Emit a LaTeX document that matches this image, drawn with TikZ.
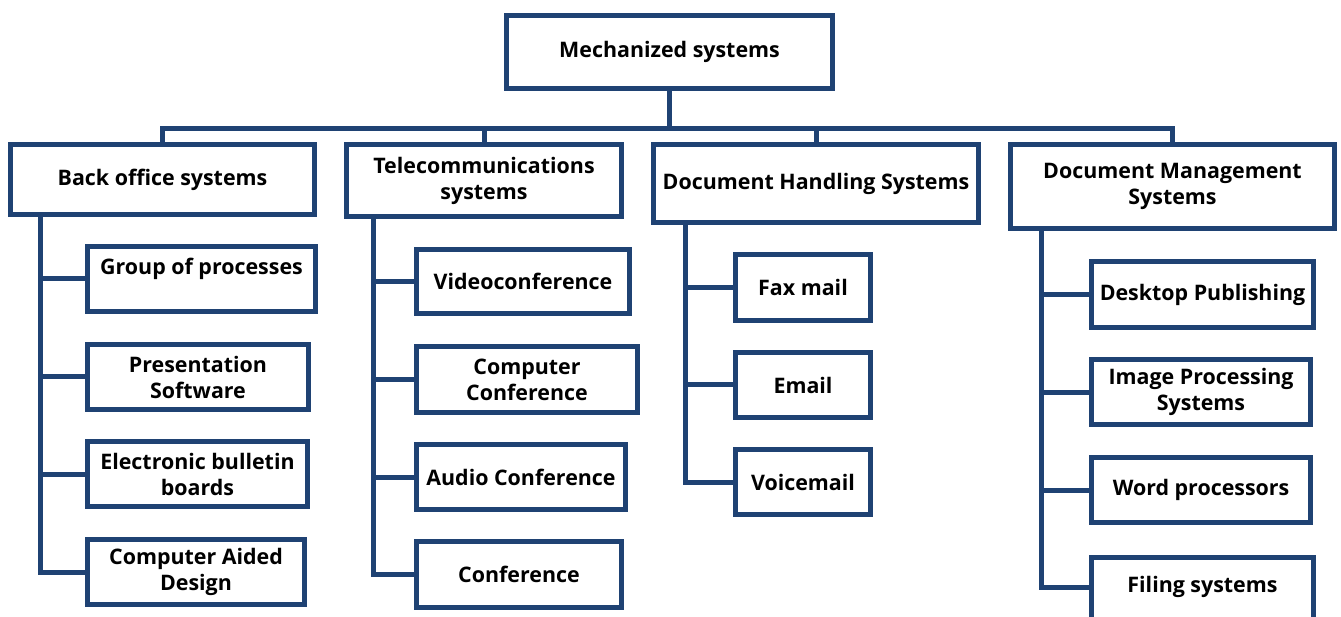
\documentclass[tikz,border=0pt]{standalone}
\usepackage{fontspec}
\setmainfont{Open Sans}
\definecolor{nb}{RGB}{31,66,115}
\tikzset{
  box/.style={draw=nb, line width=5pt, fill=white, inner sep=0pt, align=center,
    font=\fontsize{21.4}{26}\selectfont\bfseries},
  link/.style={draw=nb, line width=5pt, line join=miter}
}
\newcommand\bx[6]{\node[box, minimum width={#3-#2-5}, minimum height={#5-#4-5}] (#1) at ({(#2+#3)/2},{-(#4+#5)/2}) {#6};}
\begin{document}
\begin{tikzpicture}[x=1pt,y=1pt]
\useasboundingbox (0,0) rectangle (1341,-617);
\clip (0,0) rectangle (1341,-617);
\bx{root}{504}{835}{13}{91}{Mechanized systems}
\bx{back}{8}{317}{142}{217}{Back office systems}
\bx{tele}{344}{624}{142}{219}{Telecommunications\\systems}
\bx{hand}{651}{981}{142}{225}{Document Handling Systems}
\bx{mgmt}{1008}{1337}{142}{231}{Document Management\\Systems}
% back office children
\bx{b1}{85}{318}{244}{314}{Group of processes\\~}
\bx{b2}{85}{311}{342}{412}{Presentation\\Software}
\bx{b3}{85}{310}{439}{509}{Electronic bulletin\\boards}
\bx{b4}{85}{307}{537}{607}{Computer Aided\\Design}
% telecom children
\bx{t1}{414}{632}{247}{316}{Videoconference}
\bx{t2}{414}{640}{344}{415}{Computer\\Conference}
\bx{t3}{414}{628}{442}{512}{Audio Conference}
\bx{t4}{414}{624}{539}{610}{Conference}
% handling children
\bx{h1}{733}{873}{252}{323}{Fax mail}
\bx{h2}{733}{873}{350}{420}{Email}
\bx{h3}{733}{873}{447}{517}{Voicemail}
% management children
\bx{m1}{1089}{1316}{259}{330}{Desktop Publishing}
\bx{m2}{1089}{1313}{357}{427}{Image Processing\\Systems}
\bx{m3}{1089}{1313}{455}{525}{Word processors}
\node[box, minimum width={1316-1089-5}, minimum height=100, anchor=north] (m4) at ({(1089+1316)/2},-554.5) {};
\node[font=\fontsize{21.4}{26}\selectfont\bfseries, inner sep=0pt] (m4t) at ({(1089+1316)/2},-587) {Filing systems};
% connectors
\coordinate (bus) at (669,-129);
\coordinate (xb) at (40,0);
\coordinate (xt) at (373,0);
\coordinate (xh) at (685,0);
\coordinate (xm) at (1041,0);
\draw[link] (root.south) -- (root.south |- bus);
\draw[link] (back.north) -- (back.north |- bus) -- (mgmt.north |- bus) -- (mgmt.north);
\draw[link] (tele.north) -- (tele.north |- bus);
\draw[link] (hand.north) -- (hand.north |- bus);
\foreach \c in {b1,b2,b3,b4} \draw[link] (back.south -| xb) |- (\c.west);
\foreach \c in {t1,t2,t3,t4} \draw[link] (tele.south -| xt) |- (\c.west);
\foreach \c in {h1,h2,h3} \draw[link] (hand.south -| xh) |- (\c.west);
\foreach \c in {m1,m2,m3} \draw[link] (mgmt.south -| xm) |- (\c.west);
\draw[link] (mgmt.south -| xm) |- (m4.west |- m4t);
\end{tikzpicture}
\end{document}
